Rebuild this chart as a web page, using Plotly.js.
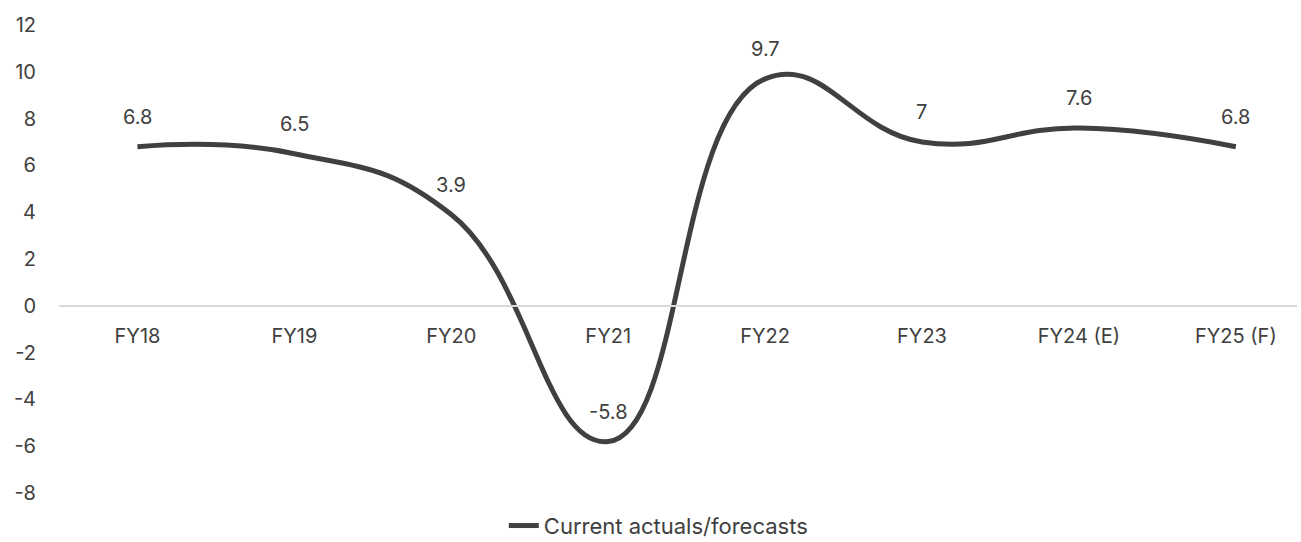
<!DOCTYPE html>
<html>
<head>
<meta charset="utf-8">
<script src="https://cdn.plot.ly/plotly-3.0.1.min.js"></script>
<style>
  html, body { margin: 0; padding: 0; background: #ffffff; }
  #chart { width: 1301px; height: 542px; }
</style>
</head>
<body>
<div id="chart"></div>
<script>
// Fiscal years and growth values (%)
const fiscalYears = ['FY18', 'FY19', 'FY20', 'FY21', 'FY22', 'FY23', 'FY24 (E)', 'FY25 (F)'];
const growthValues = [6.8, 6.5, 3.9, -5.8, 9.7, 7, 7.6, 6.8];
const seriesName = 'Current actuals/forecasts';
const yTicks = [-8, -6, -4, -2, 0, 2, 4, 6, 8, 10, 12];

const inkColor = '#404040';
const fontFamily = 'Inter, Roboto, sans-serif';
const fontSize = 20;

const trace = {
  type: 'scatter',
  mode: 'lines',
  x: fiscalYears,
  y: growthValues,
  name: seriesName,
  line: { color: inkColor, width: 5, shape: 'spline', smoothing: 1.3 },
  hoverinfo: 'x+y'
};

// value labels sit above each point
const valueLabels = fiscalYears.map((fy, i) => ({
  x: fy,
  y: growthValues[i],
  xref: 'x',
  yref: 'y',
  text: String(growthValues[i]),
  showarrow: false,
  yshift: 30,
  font: { family: fontFamily, size: fontSize, color: inkColor }
}));

const layout = {
  width: 1301,
  height: 542,
  margin: { l: 59, r: 4, t: 25, b: 49 },
  paper_bgcolor: '#ffffff',
  plot_bgcolor: '#ffffff',
  font: { family: fontFamily, size: fontSize, color: inkColor },
  showlegend: true,
  legend: {
    orientation: 'h',
    x: 0.506,
    xref: 'container',
    xanchor: 'center',
    y: 0.03,
    yref: 'container',
    yanchor: 'middle',
    font: { family: fontFamily, size: 22, color: inkColor },
    itemwidth: 30
  },
  xaxis: {
    type: 'category',
    range: [-0.5, 7.39],
    anchor: 'free',
    position: 0.4,
    showline: true,
    linecolor: '#d9d9d9',
    linewidth: 2,
    showgrid: false,
    zeroline: false,
    ticks: '',
    ticklabelstandoff: 12,
    tickfont: { family: fontFamily, size: fontSize, color: inkColor }
  },
  yaxis: {
    range: [-8, 12],
    tickvals: yTicks,
    ticktext: yTicks.map(String),
    showgrid: false,
    zeroline: false,
    showline: false,
    ticks: '',
    ticklabelstandoff: 22,
    tickfont: { family: fontFamily, size: fontSize, color: inkColor }
  },
  annotations: valueLabels
};

Plotly.newPlot('chart', [trace], layout, { displayModeBar: false, staticPlot: true });
</script>
</body>
</html>
